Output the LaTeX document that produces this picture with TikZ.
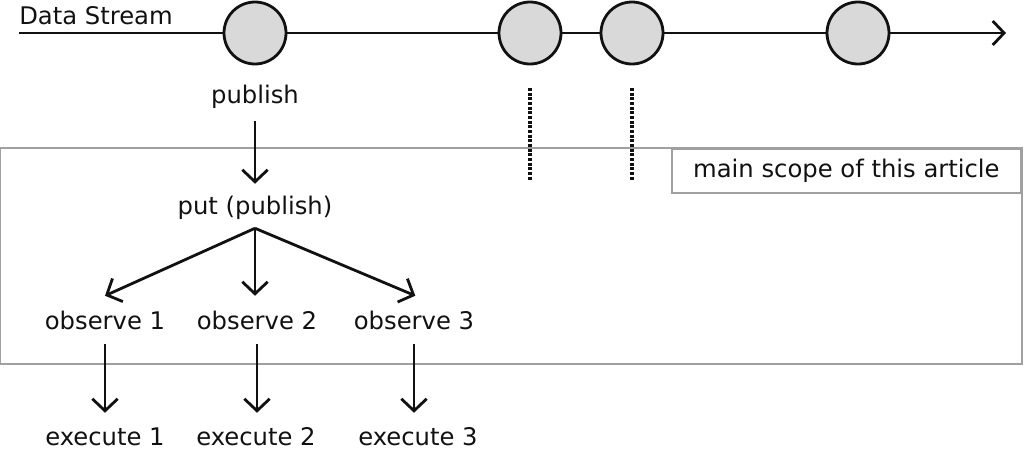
\documentclass[tikz,border=0pt]{standalone}
\usepackage{fontspec}
\setmainfont{DejaVu Sans}
\usepackage{xcolor}
\usepackage{tikz}
\usetikzlibrary{arrows.meta}
\definecolor{ink}{HTML}{111111}
\definecolor{event}{HTML}{D9D9D9}
\definecolor{frame}{HTML}{A0A0A0}
\tikzset{
  stream/.style={-{Straight Barb[length=8.5pt,width=18pt,line width=2.1pt]}, line width=2.1pt, draw=ink},
  flow/.style={-{Straight Barb[length=9pt,width=19pt,line width=2.1pt]}, line width=2.1pt, draw=ink},
  marble/.style={circle, fill=event, draw=ink, line width=2.1pt, minimum size=46.5pt, inner sep=0pt},
  lab/.style={text=ink, font=\fontsize{18.2pt}{21pt}\selectfont, inner sep=0pt, minimum height=36pt},
  scopebox/.style={draw=frame, line width=1.4pt},
  tick/.style={draw=ink, line width=2.4pt, dash pattern=on 2.2pt off 1.3pt}
}
\begin{document}
\begin{tikzpicture}[x=0.75pt, y=-0.75pt]
  \useasboundingbox (0,0) rectangle (1024,450);

  % scope frame
  \draw[scopebox] (0,148) rectangle (1022,364);
  \node[scopebox, lab, fill=white, anchor=north east, minimum width=262pt, minimum height=33pt]
    (scopelbl) at (1022,148) {main scope of this article};

  % data stream
  \coordinate (s0) at (19,33);
  \coordinate (s1) at (1006,33);
  \draw[stream] (s0) -- (s1);
  \node[lab, anchor=west, minimum height=0pt] (title) at (19,16) {Data Stream};
  \foreach \x/\name in {255/e1, 530/e2, 632/e3, 858/e4}{
    \node[marble] (\name) at (\x,33) {};
  }

  % ticks under events
  \coordinate (t2a) at (530,88);
  \coordinate (t2b) at (530,180);
  \coordinate (t3a) at (632,88);
  \coordinate (t3b) at (632,180);
  \draw[tick] (t2a) -- (t2b);
  \draw[tick] (t3a) -- (t3b);

  % flow
  \node[lab] (pub) at (255,97) {publish};
  \node[lab] (put) at (255,208) {put (publish)};
  \node[lab] (obs1) at (105,320) {observe 1};
  \node[lab] (obs2) at (257,320) {observe 2};
  \node[lab] (obs3) at (414,320) {observe 3};
  \node[lab] (exe1) at (105,437) {execute 1};
  \node[lab] (exe2) at (256,437) {execute 2};
  \node[lab] (exe3) at (418,437) {execute 3};

  \draw[flow] (pub.south) -- (put.north);
  \draw[flow] ([yshift=3pt]put.south) -- (obs1.north);
  \draw[flow] ([yshift=3pt]put.south) -- (put.south |- obs2.north);
  \draw[flow] ([yshift=3pt]put.south) -- ([xshift=1pt]obs3.north);
  \foreach \i in {1,2,3}{
    \draw[flow] (obs\i.south) -- (exe\i.north -| obs\i.south);
  }
\end{tikzpicture}
\end{document}
